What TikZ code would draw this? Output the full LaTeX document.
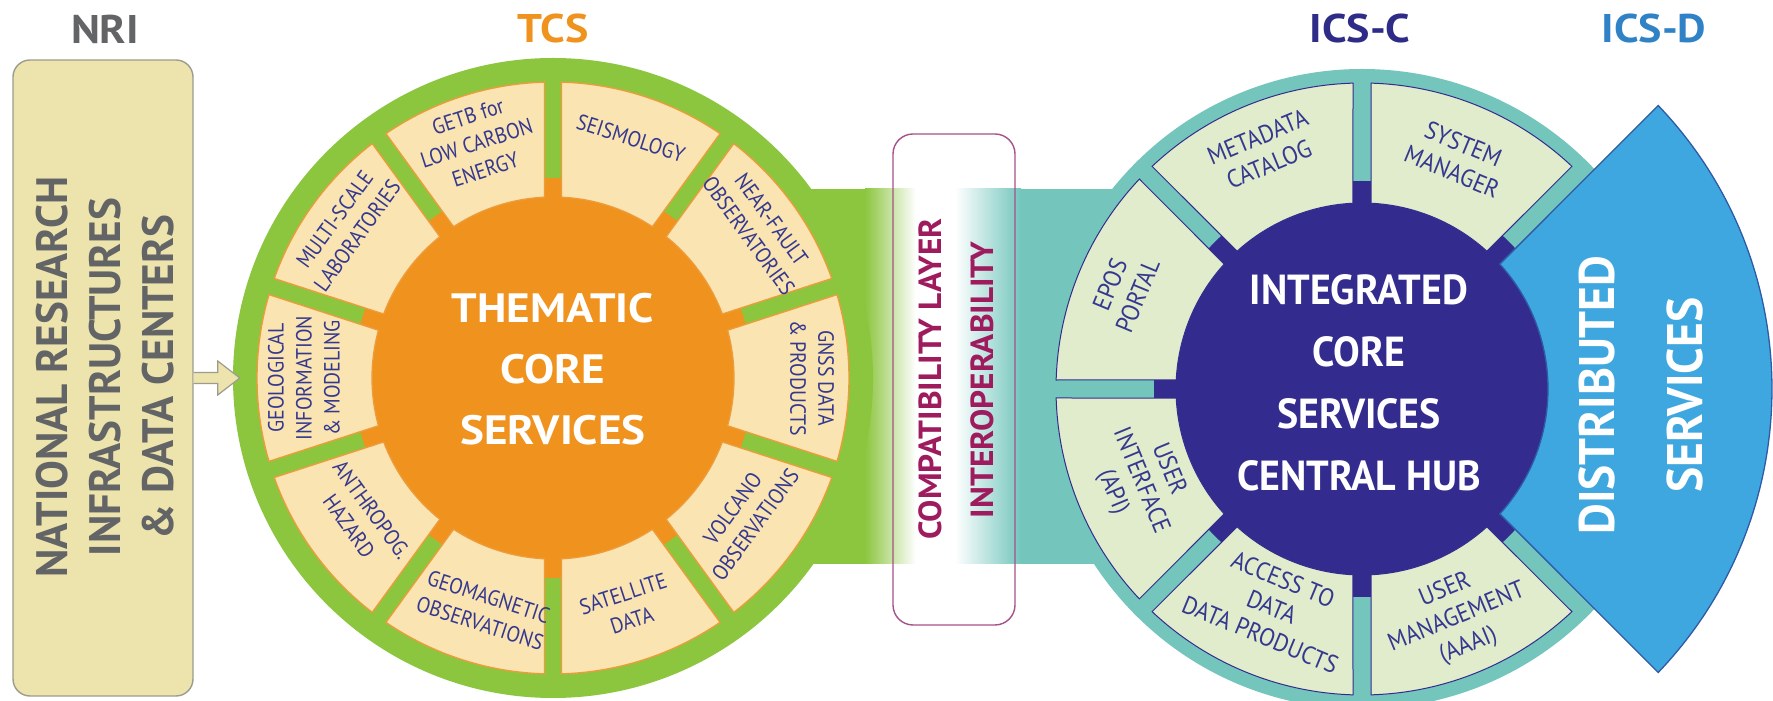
\documentclass[tikz,border=0pt]{standalone}
\usepackage{fontspec}
\setmainfont{PT Sans}
\newfontfamily\hfontA[FakeStretch=1.1]{PT Sans}
\newfontfamily\hfontB[FakeStretch=0.95]{PT Sans}
\newfontfamily\hfontC[FakeStretch=0.98]{PT Sans}
\newfontfamily\hfontD[FakeStretch=1.04]{PT Sans}
\newfontfamily\tsegfont[FakeStretch=0.9]{PT Sans}
\newfontfamily\isegfont[FakeStretch=0.92]{PT Sans}
\usetikzlibrary{calc}
\definecolor{tgreen}{HTML}{8CC63F}
\definecolor{torange}{HTML}{F0921E}
\definecolor{tsegfill}{HTML}{F9E4B2}
\definecolor{tsegline}{HTML}{EE9B3A}
\definecolor{iteal}{HTML}{74C6BD}
\definecolor{inavy}{HTML}{332C8E}
\definecolor{isegfill}{HTML}{E0ECCB}
\definecolor{iblue}{HTML}{3FA7DF}
\definecolor{iblueline}{HTML}{2E5AA6}
\definecolor{segtext}{HTML}{35388F}
\definecolor{nrifill}{HTML}{EDE3AD}
\definecolor{nriline}{HTML}{9C9C8E}
\definecolor{graytext}{HTML}{636466}
\definecolor{compline}{HTML}{A8508A}
\definecolor{comptext}{HTML}{9E1B5E}
\definecolor{tcslabel}{HTML}{F0921E}
\definecolor{icsclabel}{HTML}{2E2C86}
\definecolor{icsdlabel}{HTML}{2F82C6}
\begin{document}
\begin{tikzpicture}[x=1pt,y=1pt,
  toplabel/.style={font=\hfontA\bfseries\fontsize{40}{42}\selectfont, inner sep=0},
  tsegment/.style={fill=tsegfill, draw=tsegline, line width=1.3pt},
  isegment/.style={fill=isegfill, draw=inavy, line width=1pt},
  tlab/.style={font=\tsegfont\fontsize{22}{28}\selectfont, text=segtext, align=center, inner sep=0},
  ilab/.style={font=\isegfont\fontsize{25}{30}\selectfont, text=segtext, align=center, inner sep=0},
  bigwhite/.style={text=white, align=center, inner sep=0},
  nriarrow/.style={fill=nrifill, draw=nriline, line width=1.2pt, line join=miter}]
\useasboundingbox (0,0) rectangle (1773,701);
\fill[white] (0,0) rectangle (1773,701);

% ---------- connecting band ----------
\fill[tgreen] (553,137) rectangle (866,512);
\shade[left color=tgreen, right color=white] (865,137) rectangle (916,512);
\fill[white] (915,137) rectangle (956,512);
\shade[left color=white, right color=iteal] (955,137) rectangle (1021,512);
\fill[iteal] (1020,137) rectangle (1362,512);

% ---------- TCS ----------
\node[circle, fill=tgreen, minimum size=640pt, inner sep=0] (tcs) at (553,323) {};
\fill[torange] (tcs.center) circle[radius=200pt];
\begin{scope}[shift={(tcs.center)}]
  \foreach \a in {-18,18,54,90,126,162,198,234,270,306}{
    \path[tsegment] (\a+1.646:296pt) arc[start angle=\a+1.646, end angle=\a+34.354, radius=296pt]
      -- (\a+33.308:181pt) arc[start angle=\a+33.308, end angle=\a+2.692, radius=181pt] -- cycle;
  }
  \foreach \a/\rot/\rr/\t/\n in {
    108/18/247/{GETB for\\LOW CARBON\\ENERGY}/getb,
    72/-18/252/{SEISMOLOGY}/seis,
    36/-54/256/{NEAR-FAULT\\OBSERVATORIES}/nfo,
    0/-90/259/{GNSS DATA\\\& PRODUCTS}/gnss,
    -36/54/236/{VOLCANO\\OBSERVATIONS}/volc,
    -72/18/241/{SATELLITE\\DATA}/sat,
    -106.5/-18/242/{GEOMAGNETIC\\OBSERVATIONS}/geom,
    -144/-54/238/{ANTHROPOG.\\HAZARD}/anth,
    180/90/249/{GEOLOGICAL\\INFORMATION\\\& MODELING}/geol,
    144/54/256/{MULTI-SCALE\\LABORATORIES}/msl}{
    \node[tlab, rotate=\rot] (\n) at (\a:\rr pt) {\t};
  }
\end{scope}
\node[bigwhite, font=\hfontA\bfseries\fontsize{41}{61}\selectfont] (tcstext) at (553,332) {THEMATIC\\CORE\\SERVICES};

% ---------- ICS-C ----------
\node[circle, fill=iteal, minimum size=640pt, inner sep=0] (ics) at (1362,312) {};
\fill[inavy] (ics.center) circle[radius=208pt];
\begin{scope}[shift={(ics.center)}]
  \foreach \a in {45,90,135,180,225,270}{
    \path[isegment] (\a+1.685:306pt) arc[start angle=\a+1.685, end angle=\a+43.315, radius=306pt]
      -- (\a+42.197:186pt) arc[start angle=\a+42.197, end angle=\a+2.803, radius=186pt] -- cycle;
  }
  \foreach \a/\rot/\rr/\t/\n in {
    112.5/22.5/258/{METADATA\\CATALOG}/meta,
    67.5/-22.5/250/{SYSTEM\\MANAGER}/sysm,
    157.5/67.5/258/{EPOS\\PORTAL}/epos,
    202.5/-67.5/240/{USER\\INTERFACE\\(API)}/ui,
    247.5/-22.5/236/{ACCESS TO\\DATA\\DATA PRODUCTS}/acc,
    292.5/22.5/248/{USER\\MANAGEMENT\\(AAAI)}/um}{
    \node[ilab, rotate=\rot] (\n) at (\a:\rr pt) {\t};
  }
  % ---------- ICS-D sector ----------
  \path[fill=iblue, draw=iblueline, line width=1.3pt]
    (-43.742:410pt) arc[start angle=-43.742, end angle=43.742, radius=410pt]
    -- (42.197:186pt) arc[start angle=42.197, end angle=-42.197, radius=186pt] -- cycle;
\end{scope}
\node[bigwhite, font=\hfontB\bfseries\fontsize{42}{62}\selectfont] (icstext) at (1359,318)
  {INTEGRATED\\CORE\\SERVICES\\CENTRAL HUB};
\node[bigwhite, font=\hfontB\bfseries\fontsize{50}{88}\selectfont, rotate=90] (icsdtext) at (1641,306)
  {DISTRIBUTED\\SERVICES};

% ---------- compatibility layer ----------
\node[draw=compline, line width=1.4pt, rounded corners=20pt, minimum width=122pt,
  minimum height=491pt, inner sep=0] (compat) at (954,321.5) {};
\node[font=\hfontD\bfseries\fontsize{32}{35}\selectfont, text=comptext, rotate=90, inner sep=0]
  (comptxt) at (930,322) {COMPATIBILITY LAYER};
\node[font=\hfontD\bfseries\fontsize{32}{35}\selectfont, text=comptext, rotate=90, inner sep=0]
  (interop) at (982,321) {INTEROPERABILITY};

% ---------- NRI ----------
\node[draw=nriline, fill=nrifill, line width=1.4pt, rounded corners=17pt,
  minimum width=180pt, minimum height=636pt, inner sep=0] (nri) at (103,323) {};
\node[font=\hfontC\bfseries\fontsize{44}{53}\selectfont, text=graytext, rotate=90, align=center, inner sep=0]
  (nritext) at (105,324) {NATIONAL RESEARCH\\INFRASTRUCTURES\\\& DATA CENTERS};
\filldraw[nriarrow] ($(nri.east)+(0,5.5)$) -- ++(24,0) -- ++(0,11.5) -- ($(tcs.west)+(7,0)$)
  -- ($(nri.east)+(24,-17)$) -- ++(0,11.5) -- ($(nri.east)+(0,-5.5)$);

% ---------- top labels ----------
\node[toplabel, text=graytext] (lnri) at (105,672) {NRI};
\node[toplabel, text=tcslabel] (ltcs) at (553,672) {TCS};
\node[toplabel, text=icsclabel] (licsc) at (1360,672) {ICS-C};
\node[toplabel, text=icsdlabel] (licsd) at (1654,672) {ICS-D};
\end{tikzpicture}
\end{document}
